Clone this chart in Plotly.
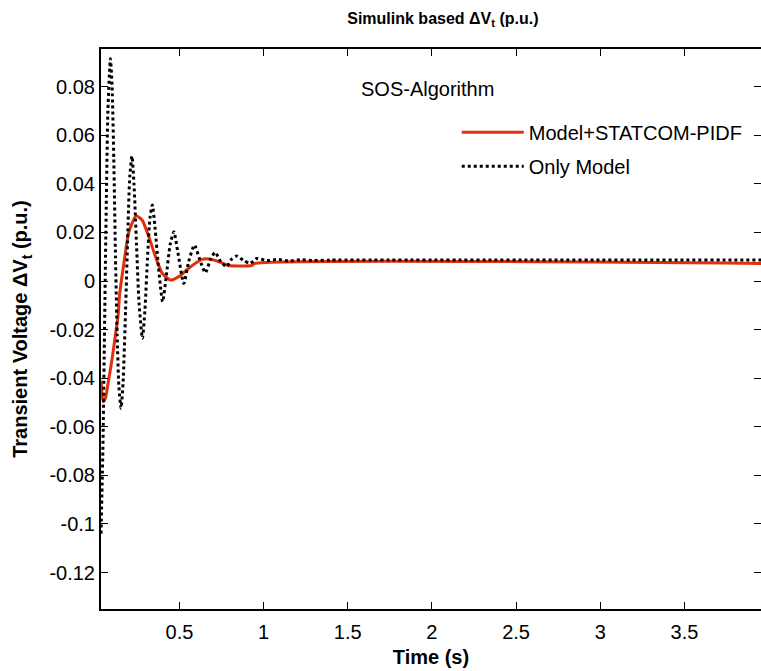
import plotly.graph_objects as go

# ---- data ----
t_only = [0.034, 0.045, 0.055, 0.065, 0.075, 0.09, 0.10, 0.11, 0.12, 0.13, 0.14, 0.153,
          0.165, 0.18, 0.195, 0.205, 0.218, 0.23, 0.245, 0.26, 0.28, 0.295, 0.31, 0.325,
          0.339, 0.355, 0.375, 0.40, 0.42, 0.445, 0.467, 0.49, 0.526, 0.555, 0.589,
          0.62, 0.654, 0.685, 0.712, 0.745, 0.78, 0.81, 0.84, 0.88, 0.92, 0.96, 1.02,
          1.09, 1.15, 1.22, 1.30, 1.40, 4.0]
v_only = [-0.104, -0.07, -0.02, 0.03, 0.07, 0.0915, 0.08, 0.05, 0.01, -0.022, -0.043, -0.0524,
          -0.042, -0.012, 0.024, 0.043, 0.0514, 0.04, 0.015, -0.009, -0.0236, -0.012, 0.009, 0.026,
          0.0313, 0.022, 0.006, -0.0085, 0.001, 0.015, 0.0203, 0.012, -0.001, 0.008, 0.0148,
          0.009, 0.0034, 0.009, 0.0118, 0.008, 0.0059, 0.009, 0.0103, 0.0085, 0.0073, 0.0093, 0.0084,
          0.0089, 0.0082, 0.0088, 0.0084, 0.0086, 0.0086]

t_pidf = [0.034, 0.047, 0.061, 0.081, 0.10, 0.12, 0.136, 0.144, 0.17, 0.20, 0.243, 0.279,
          0.318, 0.358, 0.398, 0.447, 0.496, 0.566, 0.635, 0.685, 0.754, 0.79, 0.93, 0.945, 4.0]
v_pidf = [-0.041, -0.0497, -0.048, -0.040, -0.032, -0.022, -0.014, -0.006, 0.0073, 0.0203, 0.0268, 0.025,
          0.0182, 0.010, 0.0032, 0.0004, 0.0018, 0.0059, 0.0089, 0.009, 0.0075, 0.0064, 0.0064, 0.0072, 0.0072]

x_tickvals = [0.5, 1, 1.5, 2, 2.5, 3, 3.5]
x_ticktext = ["0.5", "1", "1.5", "2", "2.5", "3", "3.5"]
y_tickvals = [0.08, 0.06, 0.04, 0.02, 0, -0.02, -0.04, -0.06, -0.08, -0.1, -0.12]
y_ticktext = ["0.08", "0.06", "0.04", "0.02", "0", "-0.02", "-0.04", "-0.06", "-0.08", "-0.1", "-0.12"]

FONT = "Liberation Sans, Arial, Helvetica, sans-serif"

fig = go.Figure()
fig.add_trace(go.Scatter(x=t_pidf, y=v_pidf, mode="lines", name="Model+STATCOM-PIDF",
                         legendgroup="a",
                         line=dict(color="#e0300e", width=3, shape="spline", smoothing=0.6)))
fig.add_trace(go.Scatter(x=t_only, y=v_only, mode="lines", name="Only Model",
                         legendgroup="b",
                         line=dict(color="black", width=3, dash="dot", shape="spline", smoothing=0.6)))

fig.update_layout(
    width=761, height=671,
    margin=dict(l=101, r=0, t=49, b=62, autoexpand=False),
    paper_bgcolor="white", plot_bgcolor="white",
    font=dict(family=FONT, size=20, color="black"),
    title=dict(text="<b>Simulink based ΔV<sub>t</sub> (p.u.)</b>", xref="paper", x=0.518,
               xanchor="center", y=0.973, yanchor="middle", font=dict(size=16)),
    showlegend=True,
    legend=dict(x=0.539, y=0.886, xanchor="left", yanchor="top", bgcolor="rgba(0,0,0,0)",
                borderwidth=0, font=dict(size=20), tracegroupgap=5, traceorder="grouped",
                itemwidth=62),
    annotations=[dict(text="SOS-Algorithm", x=0.495, y=0.9286, xref="paper", yref="paper",
                      showarrow=False, font=dict(size=20), xanchor="center", yanchor="middle")],
)
fig.update_xaxes(range=[0.034, 3.955], tickvals=x_tickvals, ticktext=x_ticktext,
                 ticks="inside", ticklen=7, tickwidth=1, tickcolor="black",
                 showline=True, linecolor="black", linewidth=2, mirror="ticks",
                 showgrid=False, zeroline=False, automargin=False, ticklabelstandoff=4,
                 title=dict(text="<b>Time (s)</b>", font=dict(size=20), standoff=8))
fig.update_yaxes(range=[-0.135, 0.0955], tickvals=y_tickvals, ticktext=y_ticktext,
                 ticks="inside", ticklen=7, tickwidth=1, tickcolor="black",
                 showline=True, linecolor="black", linewidth=2, mirror="ticks",
                 showgrid=False, zeroline=False, automargin=False,
                 title=dict(text="<b>Transient Voltage ΔV<sub>t</sub> (p.u.)</b>", font=dict(size=20), standoff=16))

fig.write_html("out.html", config={"displayModeBar": False},
               post_script="document.body.style.margin='0';")
